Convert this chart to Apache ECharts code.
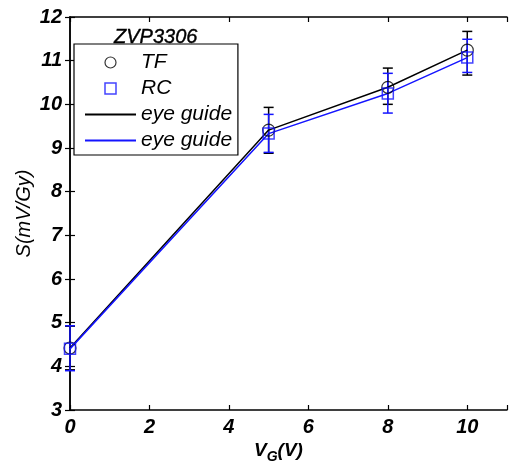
<!DOCTYPE html>
<html><head><meta charset="utf-8">
<script src="https://cdn.jsdelivr.net/npm/echarts@6/dist/echarts.min.js"></script>
<style>html,body{margin:0;padding:0;background:#fff}#c{width:510px;height:469px}</style>
</head><body><div id="c"></div>
<script>
const vg = [0, 5, 8, 10];
const tf = [4.42, 9.41, 10.39, 11.24];
const rc = [4.40, 9.33, 10.25, 11.07];
const tfLow = [3.92, 8.88, 10.0, 10.67];
const tfHigh = [4.92, 9.93, 10.83, 11.67];
const rcLow = [3.90, 8.90, 9.80, 10.73];
const rcHigh = [4.93, 9.77, 10.71, 11.49];
const xTicks = [0, 2, 4, 6, 8, 10];
const yTicks = [3, 4, 5, 6, 7, 8, 9, 10, 11, 12];

const FONT = 'Liberation Sans, Arial, sans-serif';
const BLUE = '#1414ff';
function errSeries(low, high, color) {
  return {
    type: 'custom', silent: true, z: 2,
    data: vg.map((x, i) => [x, low[i], high[i]]),
    renderItem: function (params, api) {
      const a = api.coord([api.value(0), api.value(1)]);
      const b = api.coord([api.value(0), api.value(2)]);
      const w = 5;
      const st = { stroke: color, lineWidth: 1.5 };
      return { type: 'group', children: [
        { type: 'line', shape: { x1: a[0], y1: a[1], x2: b[0], y2: b[1] }, style: st },
        { type: 'line', shape: { x1: a[0] - w, y1: a[1], x2: a[0] + w, y2: a[1] }, style: st },
        { type: 'line', shape: { x1: b[0] - w, y1: b[1], x2: b[0] + w, y2: b[1] }, style: st }
      ]};
    }
  };
}
const axisBase = {
  axisLine: { show: true, lineStyle: { color: '#000', width: 1.5 } },
  axisTick: { show: true, inside: true, length: 5, lineStyle: { color: '#000', width: 1.2 } },
  splitLine: { show: false }
};
const chart = echarts.init(document.getElementById('c'), null, { renderer: 'canvas' });
chart.setOption({
  animation: false,
  backgroundColor: '#fff',
  title: {
    text: 'ZVP3306', left: 109, top: 22,
    textStyle: { fontFamily: FONT, fontStyle: 'italic', fontWeight: 'normal', fontSize: 20, color: '#000',
      textBorderColor: '#000', textBorderWidth: 0.4 }
  },
  grid: { left: 70, right: 1, top: 17, bottom: 59 },
  legend: {
    orient: 'vertical', left: 74, top: 44,
    backgroundColor: '#fff', borderColor: '#000', borderWidth: 1.2,
    padding: [8, 0, 4, 10], itemGap: 5, itemWidth: 51, itemHeight: 11,
    symbolKeepAspect: true,
    textStyle: { fontFamily: FONT, fontStyle: 'italic', fontSize: 21, color: '#000' },
    data: [
      { name: 'TF', icon: 'circle', itemStyle: { color: 'transparent', borderColor: '#000', borderWidth: 1.2 } },
      { name: 'RC', icon: 'path://M0,0L10,0L10,10L0,10Z', itemStyle: { color: 'transparent', borderColor: BLUE, borderWidth: 1.5 } },
      { name: 'eye guide', itemStyle: { color: 'transparent', borderWidth: 0, opacity: 0 } },
      { name: 'eye guide ', itemStyle: { color: 'transparent', borderWidth: 0, opacity: 0 } }
    ]
  },
  xAxis: [
    Object.assign({}, axisBase, {
      type: 'value', min: 0, max: 11, interval: 2,
      name: '{v|V}{s|G}{v|(V)}', nameLocation: 'middle', nameGap: 28, nameMoveOverlap: false,
      nameTextStyle: { padding: [0, 20, 0, 0], rich: {
        v: { fontFamily: FONT, fontStyle: 'italic', fontWeight: 'bold', fontSize: 19, color: '#000' },
        s: { fontFamily: FONT, fontStyle: 'italic', fontWeight: 'bold', fontSize: 14, color: '#000', verticalAlign: 'bottom', padding: [12, 0, 0, 0] }
      } },
      axisLabel: { fontFamily: FONT, fontStyle: 'italic', fontWeight: 'bold', fontSize: 20, color: '#000', margin: 7,
        formatter: v => xTicks.indexOf(v) >= 0 ? String(v) : '' }
    }),
    Object.assign({}, axisBase, {
      type: 'value', min: 0, max: 11, interval: 2, position: 'top',
      axisLabel: { show: false }
    })
  ],
  yAxis: [
    Object.assign({}, axisBase, {
      type: 'value', min: 3, max: 12, interval: 1,
      name: 'S(mV/Gy)', nameLocation: 'middle', nameGap: 36, nameMoveOverlap: false,
      nameTextStyle: { fontFamily: FONT, fontStyle: 'italic', fontSize: 20, color: '#000' },
      axisLabel: { fontFamily: FONT, fontStyle: 'italic', fontWeight: 'bold', fontSize: 20, color: '#000', margin: 8,
        formatter: v => yTicks.indexOf(v) >= 0 ? String(v) : '' }
    }),
    Object.assign({}, axisBase, {
      type: 'value', min: 3, max: 12, interval: 1, position: 'right',
      axisLabel: { show: false }
    })
  ],
  series: [
    errSeries(tfLow, tfHigh, '#000'),
    errSeries(rcLow, rcHigh, BLUE),
    { name: 'eye guide', type: 'line', data: vg.map((x, i) => [x, tf[i]]), symbol: 'none', z: 3,
      lineStyle: { color: '#000', width: 1.5 }, itemStyle: { color: '#000' } },
    { name: 'eye guide ', type: 'line', data: vg.map((x, i) => [x, rc[i]]), symbol: 'none', z: 3,
      lineStyle: { color: BLUE, width: 1.5 }, itemStyle: { color: BLUE } },
    { name: 'TF', type: 'scatter', data: vg.map((x, i) => [x, tf[i]]), symbol: 'circle', symbolSize: 12, z: 4,
      itemStyle: { color: 'transparent', borderColor: '#000', borderWidth: 1.2 } },
    { name: 'RC', type: 'scatter', data: vg.map((x, i) => [x, rc[i]]), symbol: 'rect', symbolSize: 11, z: 4,
      itemStyle: { color: 'transparent', borderColor: BLUE, borderWidth: 1.5 } }
  ]
});
</script></body></html>
